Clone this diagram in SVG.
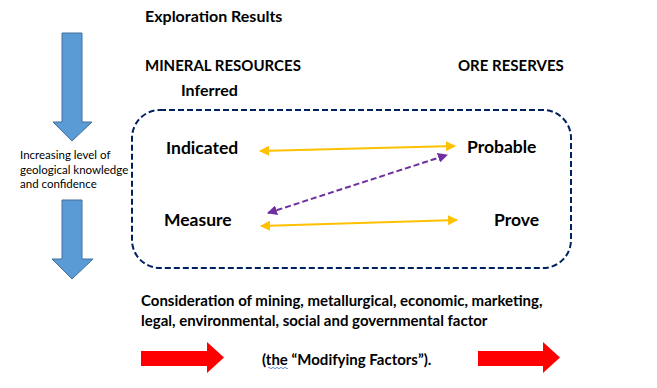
<svg xmlns="http://www.w3.org/2000/svg" width="657" height="388" viewBox="0 0 657 388">
<defs>
<style>
.t{font-family:Lato,"Open Sans","Liberation Sans",sans-serif;font-weight:bold;font-size:15px;fill:#000}
.n{font-family:Lato,"Open Sans","Liberation Sans",sans-serif;font-weight:bold;font-size:17.5px;fill:#000}
.s{font-family:Lato,"Open Sans","Liberation Sans",sans-serif;font-size:11.5px;fill:#000}
.y{stroke:#FFC000;stroke-width:2;fill:none}
.p{stroke:#7030A0;stroke-width:2;fill:none;stroke-dasharray:6 3}
.blue{fill:#5B9BD5;stroke:#41719C;stroke-width:1}
.red{fill:#FF0000}
</style>
<marker id="ay" viewBox="0 0 10 10" refX="9" refY="5" markerWidth="5" markerHeight="5" orient="auto-start-reverse"><path d="M0,0L10,5L0,10z" fill="#FFC000"/></marker>
<marker id="ap" viewBox="0 0 10 10" refX="9" refY="5" markerWidth="5" markerHeight="5" orient="auto-start-reverse"><path d="M0,0L10,5L0,10z" fill="#7030A0"/></marker>
</defs>
<rect width="657" height="388" fill="#fff"/>
<g id="arrow-down-1"><path class="blue" d="M62,33H82V122H92L72,141L53,122H62Z"/></g>
<g id="arrow-down-2"><path class="blue" d="M62,200H82V259H93L72,279L52,259H62Z"/></g>
<g id="confidence-label">
<text class="s" x="20" y="159">Increasing level of</text>
<text class="s" x="20" y="174">geological knowledge</text>
<text class="s" x="20" y="188">and confidence</text>
</g>
<g id="exploration"><text class="t" x="145" y="22" style="font-size:16px">Exploration Results</text></g>
<g id="mineral-resources"><text class="t" x="145" y="71">MINERAL RESOURCES</text></g>
<g id="inferred"><text class="t" x="181" y="96" style="font-size:16px">Inferred</text></g>
<g id="ore-reserves"><text class="t" x="458" y="71">ORE RESERVES</text></g>
<g id="box"><rect x="132" y="110" width="439" height="158" rx="28" ry="28" fill="none" stroke="#002060" stroke-width="2" stroke-dasharray="6 3"/></g>
<g id="indicated"><text class="n" x="166" y="154">Indicated</text></g>
<g id="measure"><text class="n" x="164" y="226">Measure</text></g>
<g id="probable"><text class="n" x="467" y="153">Probable</text></g>
<g id="prove"><text class="n" x="494" y="226">Prove</text></g>
<g id="connectors">
<line class="y" x1="260" y1="151" x2="455" y2="146" marker-start="url(#ay)" marker-end="url(#ay)"/>
<line class="p" x1="268" y1="213" x2="447" y2="155" marker-start="url(#ap)" marker-end="url(#ap)"/>
<line class="y" x1="261" y1="226" x2="457" y2="220" marker-start="url(#ay)" marker-end="url(#ay)"/>
</g>
<g id="modifying-text">
<text class="t" x="141" y="306">Consideration of mining, metallurgical, economic, marketing,</text>
<text class="t" x="141" y="326">legal, environmental, social and governmental factor</text>
<text class="t" x="262" y="365">(the “Modifying Factors”).</text>
<path d="M268,368q1,-1.5 2,0t2,0t2,0t2,0t2,0t2,0t2,0t2,0t2,0t2,0" fill="none" stroke="#4472C4" stroke-width="0.8"/>
</g>
<g id="red-arrow-1"><path class="red" d="M141,351H207V342L224,357.5L207,373V366H141Z"/></g>
<g id="red-arrow-2"><path class="red" d="M478,351H543V342L560,357.5L543,373V366H478Z"/></g>
</svg>
